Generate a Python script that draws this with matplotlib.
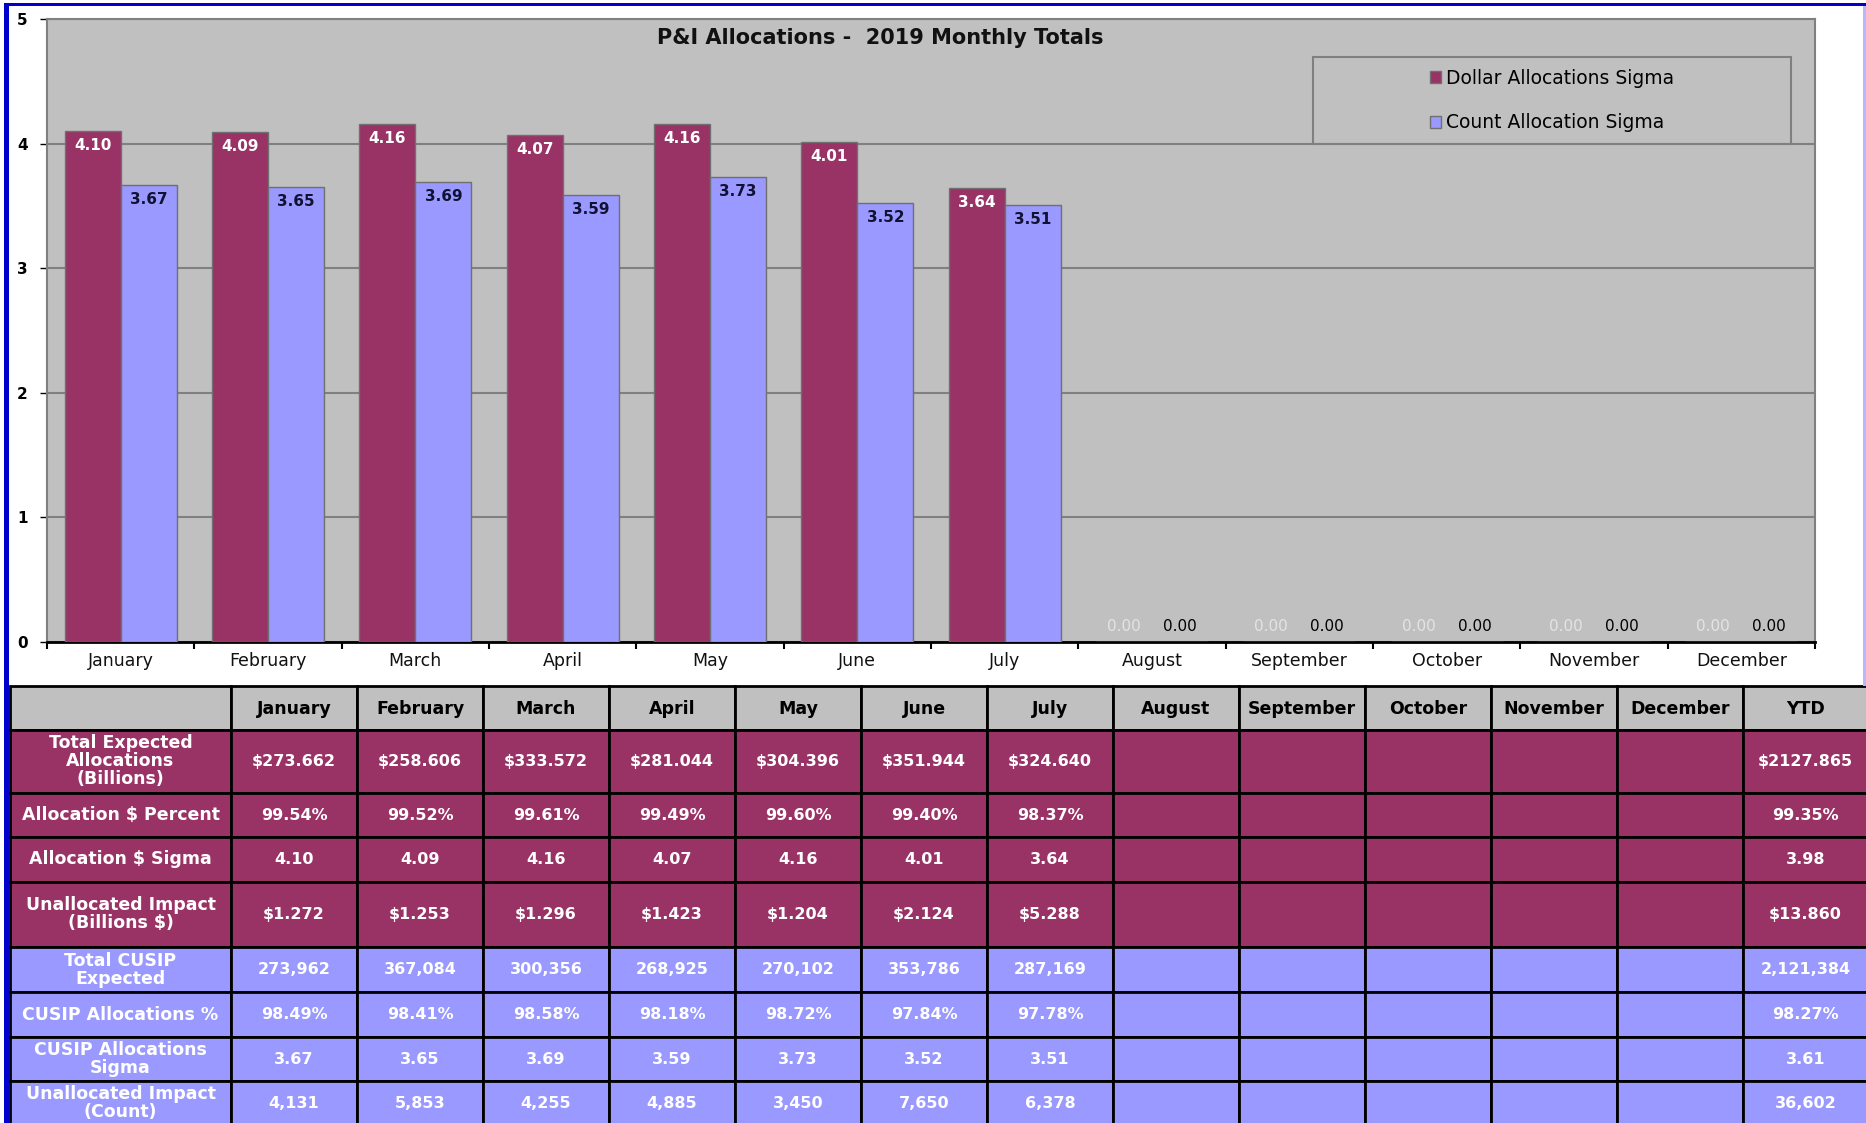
import matplotlib.pyplot as plt
import numpy as np
from matplotlib.patches import Rectangle

months = ["January", "February", "March", "April", "May", "June", "July",
          "August", "September", "October", "November", "December"]
dollar_sigma = [4.10, 4.09, 4.16, 4.07, 4.16, 4.01, 3.64, 0, 0, 0, 0, 0]
count_sigma = [3.67, 3.65, 3.69, 3.59, 3.73, 3.52, 3.51, 0, 0, 0, 0, 0]

row_labels = ["Total Expected\nAllocations\n(Billions)", "Allocation $ Percent",
              "Allocation $ Sigma", "Unallocated Impact\n(Billions $)",
              "Total CUSIP\nExpected", "CUSIP Allocations %",
              "CUSIP Allocations\nSigma", "Unallocated Impact\n(Count)"]
total_expected = ["$273.662", "$258.606", "$333.572", "$281.044", "$304.396", "$351.944", "$324.640"]
alloc_pct = ["99.54%", "99.52%", "99.61%", "99.49%", "99.60%", "99.40%", "98.37%"]
unalloc_dollar = ["$1.272", "$1.253", "$1.296", "$1.423", "$1.204", "$2.124", "$5.288"]
cusip_expected = ["273,962", "367,084", "300,356", "268,925", "270,102", "353,786", "287,169"]
cusip_pct = ["98.49%", "98.41%", "98.58%", "98.18%", "98.72%", "97.84%", "97.78%"]
unalloc_count = ["4,131", "5,853", "4,255", "4,885", "3,450", "7,650", "6,378"]
ytd = ["$2127.865", "99.35%", "3.98", "$13.860", "2,121,384", "98.27%", "3.61", "36,602"]

DARK = "#993366"
LIGHT = "#9999FF"
GRAY = "#C0C0C0"
FONT = "DejaVu Sans"

W, H = 1866, 1123
fig = plt.figure(figsize=(W / 100, H / 100), dpi=100)
fig.patch.set_facecolor("white")

# ---- chart ----
ax = fig.add_axes([47 / W, 1 - 642 / H, (1815 - 47) / W, (642 - 19) / H])
ax.set_facecolor(GRAY)
x = np.arange(len(months))
bw = 0.38
ax.bar(x - bw / 2, dollar_sigma, bw, color=DARK, edgecolor="#707070", linewidth=1, zorder=3,
       label="Dollar Allocations Sigma")
ax.bar(x + bw / 2, count_sigma, bw, color=LIGHT, edgecolor="#707070", linewidth=1, zorder=3,
       label="Count Allocation Sigma")
ax.set_xlim(-0.5, len(months) - 0.5)
ax.set_ylim(0, 5)
ax.set_yticks(range(6))
ax.set_yticklabels([str(i) for i in range(6)], fontsize=11, fontweight="bold", family=FONT)
ax.grid(axis="y", color="#808080", linewidth=1.5, zorder=1)
ax.set_xticks(x)
ax.set_xticklabels(months, fontsize=12.5, family=FONT, color="#111111")
ax.set_xticks(np.arange(-0.5, len(months)), minor=True)
ax.tick_params(axis="x", which="major", length=0, pad=7)
ax.tick_params(axis="x", which="minor", length=5, width=1.5, direction="out")
ax.tick_params(axis="y", length=5, width=1, pad=9)
for s in ["top", "right", "left"]:
    ax.spines[s].set_color("#808080")
    ax.spines[s].set_linewidth(1.5)
ax.spines["bottom"].set_color("black")
ax.spines["bottom"].set_linewidth(2)

for xi, v in zip(x, dollar_sigma):
    if v > 0:
        ax.annotate(f"{v:.2f}", (xi - bw / 2, v), xytext=(0, -5), textcoords="offset points",
                    ha="center", va="top", color="white", fontsize=11, fontweight="bold", family=FONT)
    else:
        ax.annotate(f"{v:.2f}", (xi - bw / 2, 0), xytext=(0, 11), textcoords="offset points",
                    ha="center", va="center", color="#E4E4E4", fontsize=11, family=FONT)
for xi, v in zip(x, count_sigma):
    if v > 0:
        ax.annotate(f"{v:.2f}", (xi + bw / 2, v), xytext=(0, -5), textcoords="offset points",
                    ha="center", va="top", color="#111133", fontsize=11, fontweight="bold", family=FONT)
    else:
        ax.annotate(f"{v:.2f}", (xi + bw / 2, 0), xytext=(0, 11), textcoords="offset points",
                    ha="center", va="center", color="black", fontsize=11, family=FONT)

fig.text(880 / W, 1 - 38 / H, "P&I Allocations -  2019 Monthly Totals", ha="center", va="center",
         fontsize=15, fontweight="bold", family=FONT, color="#111111")

# legend frame + entries
lx0, ly0, lx1, ly1 = 1313, 57, 1791, 144
fig.patches.append(Rectangle((lx0 / W, 1 - ly1 / H), (lx1 - lx0) / W, (ly1 - ly0) / H,
                             transform=fig.transFigure, fill=False, edgecolor="#808080",
                             linewidth=1.5, zorder=5))
ax.legend(loc="center", bbox_to_anchor=(lx0 / W, 1 - ly1 / H, (lx1 - lx0) / W, (ly1 - ly0) / H),
          bbox_transform=fig.transFigure, frameon=False, handlelength=0.6, handleheight=0.6,
          handletextpad=0.25, labelspacing=1.35, prop={"family": FONT, "size": 13.5})

# ---- table ----
tab = fig.add_axes([0, 0, 1, 1], zorder=10)
tab.set_xlim(0, W)
tab.set_ylim(H, 0)
tab.axis("off")

col_edges = [10, 231] + [231 + 126 * (i + 1) for i in range(12)] + [W + 2]
row_edges = [686, 730, 793, 837, 882, 947, 992, 1037, 1081, 1140]
header = [""] + months + ["YTD"]
dollar_sigma_txt = [f"{v:.2f}" for v in dollar_sigma[:7]]
count_sigma_txt = [f"{v:.2f}" for v in count_sigma[:7]]
rows = [total_expected, alloc_pct, dollar_sigma_txt, unalloc_dollar,
        cusip_expected, cusip_pct, count_sigma_txt, unalloc_count]
label_font = {"family": FONT, "weight": "bold", "size": 12.5}
num_font = {"family": FONT, "weight": "bold", "size": 11.5}

for j in range(len(header)):
    xa, xb = col_edges[j], col_edges[j + 1]
    ya, yb = row_edges[0], row_edges[1]
    tab.add_patch(Rectangle((xa, ya), xb - xa, yb - ya, facecolor=GRAY, edgecolor="black", linewidth=2))
    if header[j]:
        tab.text((xa + xb) / 2, (ya + yb) / 2 + 1, header[j], ha="center", va="center",
                 color="black", **label_font)

for i, vals in enumerate(rows):
    color = DARK if i < 4 else LIGHT
    ya, yb = row_edges[i + 1], row_edges[i + 2]
    cells = [row_labels[i]] + vals + [""] * (12 - len(vals)) + [ytd[i]]
    for j, txt in enumerate(cells):
        xa, xb = col_edges[j], col_edges[j + 1]
        tab.add_patch(Rectangle((xa, ya), xb - xa, yb - ya, facecolor=color, edgecolor="black", linewidth=2))
        if txt:
            yc = (ya + yb) / 2 if i < 7 else ya + 22
            tab.text((xa + xb) / 2, yc, txt, ha="center", va="center", color="white",
                     linespacing=1.0, **(label_font if j == 0 else num_font))

# window borders
tab.add_patch(Rectangle((4, 4), 5, H, facecolor="#0000CC", edgecolor="none"))
tab.add_patch(Rectangle((4, 3), W, 3, facecolor="#0000CC", edgecolor="none"))
tab.add_patch(Rectangle((1863, 6), 3, 680, facecolor="#B8B8FF", edgecolor="none"))

fig.savefig("out.png", dpi=100, facecolor="white")
